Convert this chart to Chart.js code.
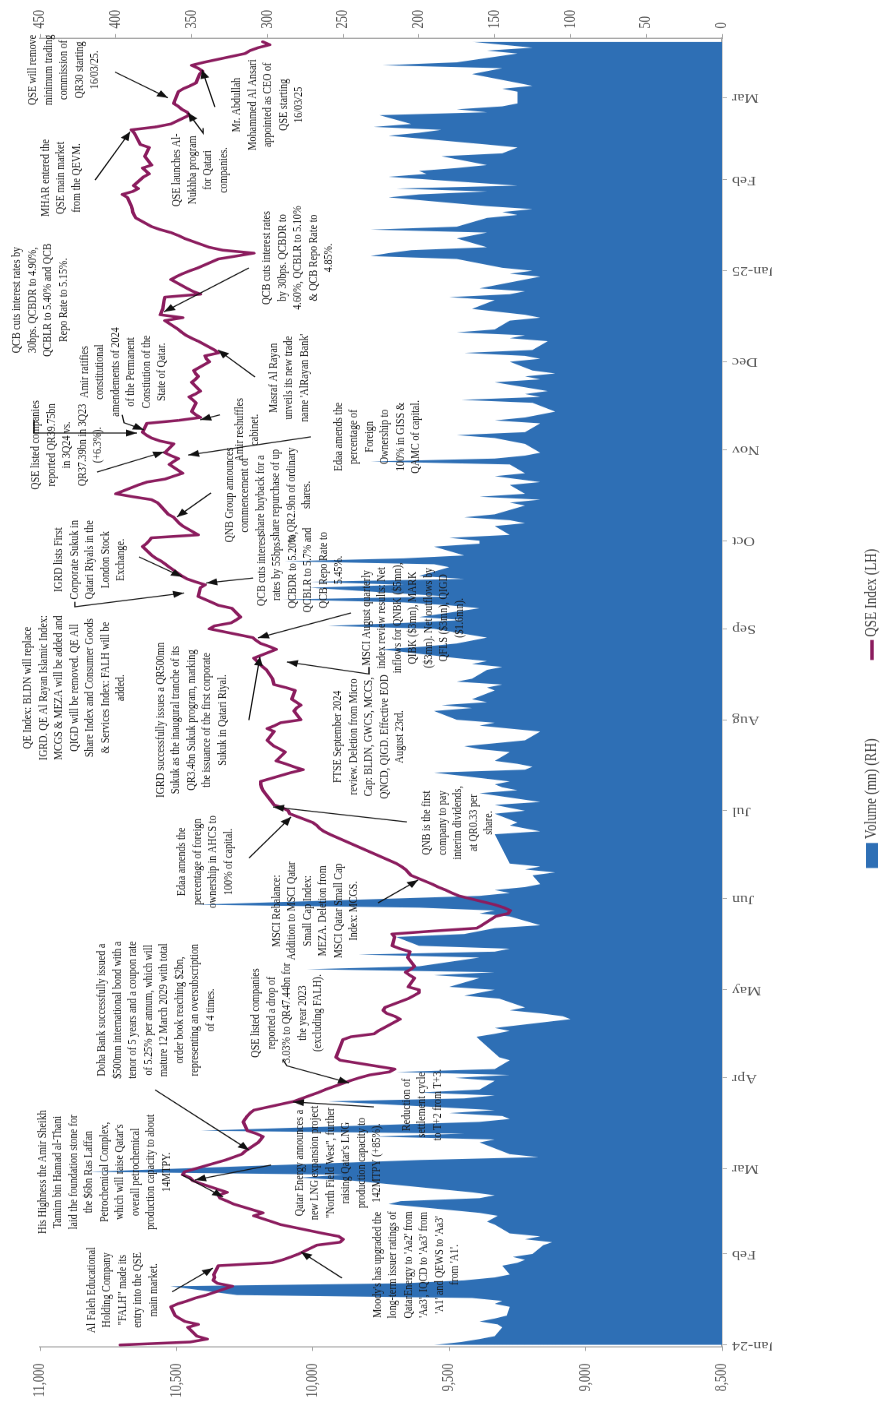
<!DOCTYPE html>
<html>
<head>
<meta charset="utf-8">
<script src="https://cdn.jsdelivr.net/npm/chart.js@4.4.1/dist/chart.umd.min.js"></script>
<style>
html, body { margin: 0; padding: 0; background: #fff; overflow: hidden; width: 881px; height: 1402px; }
#chart { position: absolute; left: 0; top: 1402px; transform-origin: 0 0; transform: rotate(-90deg) scaleX(0.7789); }
</style>
</head>
<body>
<canvas id="chart" width="1800" height="881"></canvas>
<script>
// month tick labels, one per calendar month
var monthLabels = ['Jan-24', 'Feb', 'Mar', 'Apr', 'May', 'Jun', 'Jul', 'Aug', 'Sep', 'Oct', 'Nov', 'Dec', 'Jan-25', 'Feb', 'Mar'];
var lastDay = 20; // last trading day shown in Mar-25
var holidays = ['2024-02-13', '2024-03-03', '2024-04-09', '2024-04-10', '2024-04-11',
  '2024-06-16', '2024-06-17', '2024-06-18', '2024-06-19', '2024-06-20',
  '2024-12-18', '2025-02-11', '2025-03-02'];

// QSE Index close, one value per trading day
var idxJan24 = [10706, 10450, 10387, 10425, 10458, 10420, 10469, 10488, 10505, 10520, 10495, 10460, 10430, 10390, 10295, 10350, 10365, 10360, 10363, 10346, 10150, 10110, 10080];
var idxFeb24 = [10052, 9985, 9900, 9889, 9905, 9962, 10118, 10150, 10216, 10183, 10290, 10314, 10340, 10346, 10314, 10412, 10440, 10450, 10477, 10470];
var idxMar24 = [10320, 10290, 10260, 10248, 10200, 10191, 10183, 10207, 10240, 10255, 10248, 10240, 10230, 10216, 10069, 10040, 10010, 9980, 9954, 9864];
var idxApr24 = [9830, 9791, 9720, 9700, 9900, 9915, 9890, 9860, 9775, 9760, 9740, 9680, 9700, 9730, 9742, 9735, 9650, 9630, 9611];
var idxMay24 = [9611, 9650, 9627, 9645, 9660, 9640, 9627, 9652, 9648, 9644, 9680, 9709, 9700, 9709, 9562, 9399, 9380, 9330, 9284, 9276, 9300, 9333];
var idxJun24 = [9464, 9490, 9513, 9540, 9562, 9640, 9650, 9660, 9675, 9693, 9938, 9960, 9975, 9985, 10000, 10085];
var idxJul24 = [10090, 10110, 10142, 10150, 10175, 10183, 10188, 10191, 10191, 10080, 10036, 10070, 10100, 10134, 10101, 10120, 10142, 10155, 10167, 10142, 10167, 10140, 10118];
var idxAug24 = [10044, 10069, 10060, 10044, 10060, 10077, 10065, 10100, 10142, 10145, 10148, 10170, 10183, 10195, 10205, 10216, 10134, 10160, 10191, 10207, 10220];
var idxSep24 = [10379, 10360, 10300, 10281, 10265, 10297, 10346, 10370, 10395, 10420, 10412, 10395, 10430, 10461, 10480, 10526, 10540, 10555, 10575, 10590, 10624, 10610];
var idxOct24 = [10600, 10591, 10420, 10477, 10490, 10500, 10510, 10530, 10559, 10570, 10591, 10660, 10722, 10640, 10608, 10542, 10510, 10477, 10526, 10510, 10493, 10520, 10542];
var idxNov24 = [10510, 10560, 10591, 10610, 10624, 10608, 10493, 10412, 10430, 10444, 10428, 10440, 10453, 10430, 10412, 10444, 10430, 10420, 10430, 10436];
var idxDec24 = [10379, 10390, 10395, 10346, 10360, 10420, 10444, 10465, 10480, 10493, 10542, 10477, 10559, 10550, 10545, 10542, 10412, 10440, 10461, 10520, 10500, 10477];
var idxJan25 = [10450, 10420, 10346, 10280, 10216, 10330, 10380, 10470, 10493, 10520, 10559, 10590, 10649, 10655, 10660, 10662, 10665, 10680, 10698, 10660, 10640, 10657];
var idxFeb25 = [10620, 10600, 10612, 10624, 10591, 10616, 10610, 10600, 10632, 10649, 10655, 10665, 10575, 10520, 10453, 10460, 10480, 10493, 10510];
var idxMar25 = [10493, 10475, 10450, 10428, 10415, 10404, 10420, 10444, 10400, 10248, 10230, 10200, 10158, 10183];

// traded volume (mn shares), one value per trading day
var volJan24 = [190, 172, 160, 150, 145, 148, 160, 150, 142, 140, 150, 145, 165, 320, 364, 210, 170, 150, 140, 145, 135, 130, 138];
var volFeb24 = [125, 118, 112, 130, 120, 140, 150, 155, 148, 160, 220, 212, 160, 150, 165, 224, 244, 279, 250, 418];
var volMar24 = [200, 121, 140, 145, 160, 150, 230, 170, 344, 160, 140, 145, 180, 150, 260, 170, 150, 200, 160, 150];
var volApr24 = [176, 140, 215, 150, 140, 147, 160, 162, 150, 140, 150, 100, 105, 120, 140, 130, 147, 170, 160];
var volMay24 = [150, 180, 160, 190, 150, 274, 200, 160, 240, 150, 140, 200, 215, 170, 160, 150, 120, 140, 160, 150, 200, 347];
var volJun24 = [160, 140, 150, 130, 120, 125, 110, 130, 120, 140, 150, 120, 130, 140, 135, 150];
var volJul24 = [130, 140, 150, 120, 160, 135, 145, 150, 140, 190, 130, 125, 135, 150, 140, 160, 170, 150, 130, 120, 140, 160, 150];
var volAug24 = [175, 190, 165, 185, 155, 165, 150, 155, 145, 175, 165, 155, 145, 165, 155, 175, 225, 195, 175, 165, 155];
var volSep24 = [190, 260, 210, 170, 200, 160, 180, 210, 290, 180, 272, 210, 272, 170, 200, 180, 190, 289, 210, 170, 190, 160];
var volOct24 = [160, 180, 140, 150, 130, 140, 170, 150, 130, 140, 120, 160, 130, 140, 120, 135, 150, 130, 140, 232, 150, 130, 120];
var volNov24 = [130, 140, 150, 175, 130, 120, 150, 130, 120, 110, 125, 172, 120, 130, 115, 150, 120, 130, 110, 125];
var volDec24 = [140, 120, 130, 170, 125, 115, 140, 130, 175, 150, 140, 120, 130, 165, 150, 180, 140, 130, 160, 130, 120, 140];
var volJan25 = [125, 145, 175, 232, 220, 205, 155, 175, 165, 155, 232, 175, 155, 135, 145, 125, 155, 220, 200, 155, 215, 135];
var volFeb25 = [220, 195, 200, 175, 155, 185, 145, 135, 155, 220, 200, 185, 230, 205, 226, 155, 175, 145, 135];
var volMar25 = [135, 145, 125, 135, 165, 155, 145, 224, 175, 135, 155, 125, 145, 165];

var indexByMonth = [idxJan24, idxFeb24, idxMar24, idxApr24, idxMay24, idxJun24, idxJul24, idxAug24, idxSep24, idxOct24, idxNov24, idxDec24, idxJan25, idxFeb25, idxMar25];
var volumeByMonth = [volJan24, volFeb24, volMar24, volApr24, volMay24, volJun24, volJul24, volAug24, volSep24, volOct24, volNov24, volDec24, volJan25, volFeb25, volMar25];

// notes: text lines, centred at [day, index level]
var notes = [
  { at: [18.7, 10699], text: ['Al Faleh Educational', 'Holding Company', '"FALH" made its', 'entry into the QSE', 'main market.'] },
  { at: [27.3, 9622], text: ["Moody's has upgraded the", 'long-term issuer ratings of', "QatarEnergy to 'Aa2' from", "'Aa3', IQCD to 'Aa3' from", "'A1' and QEWS to 'Aa3'", "from 'A1'."] },
  { at: [58.9, 10765], text: ['His Highness the Amir Sheikh', 'Tamim bin Hamad al-Thani', 'laid the foundation stone for', 'the $6bn Ras Laffan', 'Petrochemical Complex,', "which will raise Qatar's", 'overall petrochemical', 'production capacity to about', '14MTPY.'] },
  { at: [114.1, 10575], text: ['Doha Bank successfully issued a', '$500mn international bond with a', 'tenor of 5 years and a coupon rate', 'of 5.25% per annum, which will', 'mature 12 March 2029 with total', 'order book reaching $2bn,', 'representing an oversubscription', 'of 4 times.'] },
  { at: [62, 9908], text: ['Qatar Energy announces a', 'new LNG expansion project', '"North Field West", further', "raising Qatar's LNG", 'production capacity to', '142MTPY (+85%).'] },
  { at: [81.8, 9600], text: ['Reduction of', 'settlement cycle', 'to T+2 from T+3.'] },
  { at: [113.1, 10095], text: ['QSE listed companies', 'reported a drop of', '3.03% to QR47.44bn for', 'the year 2023', '(excluding FALH).'] },
  { at: [147.9, 9992], text: ['MSCI Rebalance:', 'Addition to MSCI Qatar', 'Small Cap Index:', 'MEZA. Deletion from', 'MSCI Qatar Small Cap', 'Index: MCGS.'] },
  { at: [164.6, 10395], text: ['Edaa amends the', 'percentage of foreign', 'ownership in AHCS to', '100% of capital.'] },
  { at: [212.9, 10446], text: ['IGRD successfully issues a QR500mn', 'Sukuk as the inaugural tranche of its', 'QR3.4bn Sukuk program, marking', 'the issuance of the first corporate', 'Sukuk in Qatari Riyal.'] },
  { at: [207.2, 9794], text: ['FTSE September 2024', 'review. Deletion from Micro', 'Cap: BLDN, GWCS, MCCS,', 'QNCD, QIGD. Effective EOD', 'August 23rd.'] },
  { at: [177.9, 9468], text: ['QNB is the first', 'company to pay', 'interim dividends,', 'at QR0.33 per', 'share.'] },
  { at: [223.9, 10875], text: ['QE Index: BLDN will replace', 'IGRD. QE Al Rayan Islamic Index:', 'MCGS & MEZA will be added and', 'QIGD will be removed. QE All', 'Share Index and Consumer Goods', '& Services Index: FALH will be', 'added.'] },
  { at: [267.5, 10817], text: ['IGRD lists First', 'Corporate Sukuk in', 'Qatari Riyals in the', 'London Stock', 'Exchange.'] },
  { at: [264, 10047], text: ['QCB cuts interest', 'rates by 55bps.', 'QCBDR to 5.20%,', 'QCBLR to 5.7% and', 'QCB Repo Rate to', '5.45%.'] },
  { at: [247.7, 9633], text: ['MSCI August quarterly', 'index review results: Net', 'inflows for QNBK ($5mn),', 'QIBK ($3mn), MARK', '($3mn). Net outflows by', 'QFLS ($3mn), QIGD', '($1.6mn).'] },
  { at: [289.6, 10164], text: ['QNB Group announces', 'commencement of', 'share buyback for a', 'share repurchase of up', 'to QR2.9bn of ordinary', 'shares.'] },
  { at: [306.6, 10901], text: ['QSE listed companies', 'reported QR39.75bn', 'in 3Q24 vs.', 'QR37.39bn in 3Q23', '(+6.3%).'] },
  { at: [356, 11000], text: ['QCB cuts interest rates by', '30bps. QCBDR to 4.90%,', 'QCBLR to 5.40% and QCB', 'Repo Rate to 5.15%.'] },
  { at: [331.5, 10696], text: ['Amir ratifies', 'constitutional', 'amendements of 2024', 'of the Permanent', 'Constiution of the', 'State of Qatar.'] },
  { at: [311.8, 10241], text: ['Amir reshuffles', 'cabinet.'] },
  { at: [329.5, 10087], text: ['Masraf Al Rayan', 'unveils its new trade', "name 'AlRayan Bank'"] },
  { at: [370.4, 10054], text: ['QCB cuts interest rates', 'by 30bps. QCBDR to', '4.60%, QCBLR to 5.10%', '& QCB Repo Rate to', '4.85%.'] },
  { at: [309.4, 9765], text: ['Edaa amends the', 'percentage of', 'Foreign', 'Ownership to', '100% in GISS &', 'QAMC of capital.'] },
  { at: [397.6, 10923], text: ['MHAR entered the', 'QSE main market', 'from the QEVM.'] },
  { at: [400.3, 10413], text: ['QSE launches Al-', 'Nukhba program', 'for Qatari', 'companies.'] },
  { at: [422.5, 10164], text: ['Mr. Abdullah', 'Mohammed Al Ansari', 'appointed as CEO of', 'QSE starting', '16/03/25'] },
  { at: [434.4, 10912], text: ['QSE will remove', 'minimum trading', 'commission of', 'QR30 starting', '16/03/25.'] }
];

// arrows: [day, index level] points, head at the last one
var arrows = [
  [[18.1, 10516], [26.2, 10366]],
  [[22.8, 9893], [31.7, 10043]],
  [[57.9, 10479], [50.4, 10329]],
  [[86.9, 10578], [66.4, 10234]],
  [[61.3, 10153], [56.2, 10432]],
  [[81.1, 9776], [82.8, 10073]],
  [[97.1, 10109], [95.1, 10095], [89.3, 9867]],
  [[150.6, 9761], [158.4, 9614]],
  [[165.9, 10234], [179.9, 10080]],
  [[212.9, 10234], [234.4, 10194]],
  [[178.2, 9655], [183.3, 10146]],
  [[249.4, 9860], [240.9, 10201]],
  [[231, 9794], [228.6, 9794], [232.7, 10095]],
  [[261.3, 10219], [259.6, 10391]],
  [[253.2, 10872], [251.5, 10872], [256.2, 10472]],
  [[268.5, 10637], [261.7, 10479]],
  [[290.3, 10373], [282.1, 10498]],
  [[297.4, 10791], [304.3, 10545]],
  [[315.2, 11022], [310.7, 11022], [310.7, 10644]],
  [[316.9, 10699], [314.2, 10692], [311.8, 10619]],
  [[309.4, 10007], [303.2, 10457]],
  [[316.9, 10340], [315.2, 10413]],
  [[329.8, 10212], [339, 10347]],
  [[366.95, 10234], [352, 10545]],
  [[396.9, 10798], [413.3, 10670]],
  [[414.6, 10402], [412.9, 10402], [419.8, 10457]],
  [[433.7, 10725], [424.9, 10531]],
  [[421.8, 10359], [434.4, 10406]]
];

var K = 1402 / 1800;
var serif = "'Liberation Serif', 'Times New Roman', serif";
var axisGrey = '#a6a6a6';
var lineColor = '#8b1c5e';
var barColor = '#2e6fb5';

var start = Date.UTC(2024, 0, 1);
function dayNum(y, m, d) { return (Date.UTC(y, m, d) - start) / 86400000; }

var monthStarts = [];
var indexPts = [];
var volumePts = [];
for (var i = 0; i < monthLabels.length; i++) {
  var yr = 2024 + Math.floor(i / 12), mo = i % 12;
  monthStarts.push(dayNum(yr, mo, 1));
  var last = (i === monthLabels.length - 1) ? lastDay : new Date(Date.UTC(yr, mo + 1, 0)).getUTCDate();
  var days = [];
  for (var d = 1; d <= last; d++) {
    var dt = new Date(Date.UTC(yr, mo, d));
    if (dt.getUTCDay() <= 4 && holidays.indexOf(dt.toISOString().slice(0, 10)) < 0) days.push(dayNum(yr, mo, d));
  }
  days.forEach(function (x, j) {
    indexPts.push({ x: x, y: indexByMonth[i][j] });
    volumePts.push({ x: x, y: volumeByMonth[i][j] });
  });
}

var notesPlugin = {
  id: 'notes',
  afterDatasetsDraw: function (chart) {
    var ctx = chart.ctx, xs = chart.scales.x, ys = chart.scales.yIdx;
    function px(p) { return [xs.getPixelForValue(p[0]), ys.getPixelForValue(p[1])]; }
    ctx.save();
    ctx.fillStyle = '#1a1a1a';
    ctx.font = '13px ' + serif;
    ctx.textAlign = 'center';
    ctx.textBaseline = 'middle';
    notes.forEach(function (n) {
      var c = px(n.at), lh = 15.5;
      var top = c[1] - (n.text.length - 1) * lh / 2;
      n.text.forEach(function (t, k) { ctx.fillText(t, c[0], top + k * lh); });
    });

    ctx.strokeStyle = '#111';
    ctx.fillStyle = '#111';
    ctx.lineWidth = 1.3;
    arrows.forEach(function (a) {
      var pts = a.map(px);
      ctx.beginPath();
      ctx.moveTo(pts[0][0], pts[0][1]);
      for (var k = 1; k < pts.length; k++) ctx.lineTo(pts[k][0], pts[k][1]);
      ctx.stroke();
      var p = pts[pts.length - 1], q = pts[pts.length - 2];
      var ang = Math.atan2(p[1] - q[1], p[0] - q[0]);
      var L = 11, W = 4.5;
      ctx.beginPath();
      ctx.moveTo(p[0], p[1]);
      ctx.lineTo(p[0] - L * Math.cos(ang) + W * Math.sin(ang), p[1] - L * Math.sin(ang) - W * Math.cos(ang));
      ctx.lineTo(p[0] - L * Math.cos(ang) - W * Math.sin(ang), p[1] - L * Math.sin(ang) + W * Math.cos(ang));
      ctx.closePath();
      ctx.fill();
    });

    // legend
    var ly = 872;
    ctx.font = '17px ' + serif;
    ctx.textAlign = 'left';
    ctx.fillStyle = barColor;
    ctx.fillRect(534 / K, ly - 6, 25 / K, 12);
    ctx.fillStyle = '#404040';
    ctx.fillText('Volume (mn) (RH)', 563 / K, ly);
    ctx.strokeStyle = lineColor;
    ctx.lineWidth = 3.5;
    ctx.beginPath();
    ctx.moveTo(742 / K, ly);
    ctx.lineTo(762 / K, ly);
    ctx.stroke();
    ctx.fillText('QSE Index (LH)', 765 / K, ly);
    ctx.restore();
  }
};

var tickFont = { family: serif, size: 16 };

new Chart(document.getElementById('chart'), {
  type: 'line',
  data: {
    datasets: [
      {
        label: 'QSE Index (LH)', data: indexPts, yAxisID: 'yIdx', order: 0,
        borderColor: lineColor, borderWidth: 3.5, pointRadius: 0, tension: 0, fill: false,
        borderJoinStyle: 'round', borderCapStyle: 'round'
      },
      {
        label: 'Volume (mn) (RH)', data: volumePts, yAxisID: 'yVol', order: 1,
        backgroundColor: barColor, borderColor: barColor, borderWidth: 0, pointRadius: 0, tension: 0, fill: 'origin'
      }
    ]
  },
  options: {
    responsive: false,
    animation: false,
    devicePixelRatio: 1,
    layout: { padding: { top: 40, bottom: 109, left: 0, right: 0 } },
    plugins: { legend: { display: false }, tooltip: { enabled: false } },
    scales: {
      x: {
        type: 'linear', min: -0.7, max: 445.3,
        afterBuildTicks: function (s) { s.ticks = monthStarts.map(function (v) { return { value: v }; }); },
        afterFit: function (s) { s.height = 50; },
        ticks: {
          autoSkip: false, minRotation: 90, maxRotation: 90, padding: 5, color: '#595959', font: tickFont,
          callback: function (v, i) { return monthLabels[i]; }
        },
        grid: { drawOnChartArea: false, tickLength: 5, color: axisGrey },
        border: { color: axisGrey, width: 1.5 }
      },
      yIdx: {
        position: 'left', min: 8500, max: 11000,
        afterFit: function (s) { s.width = 55 / K; },
        ticks: {
          stepSize: 500, padding: 16, color: '#595959', font: tickFont,
          callback: function (v) { return v.toLocaleString('en-US'); }
        },
        grid: { drawOnChartArea: false, tickLength: 5, color: axisGrey },
        border: { color: axisGrey, width: 1.5 }
      },
      yVol: {
        position: 'right', min: 0, max: 450,
        afterFit: function (s) { s.width = 38 / K; },
        ticks: { stepSize: 50, padding: 7, color: '#595959', font: tickFont },
        grid: { drawOnChartArea: false, tickLength: 5, color: axisGrey },
        border: { color: axisGrey, width: 1.5 }
      }
    }
  },
  plugins: [notesPlugin]
});
</script>
</body>
</html>
